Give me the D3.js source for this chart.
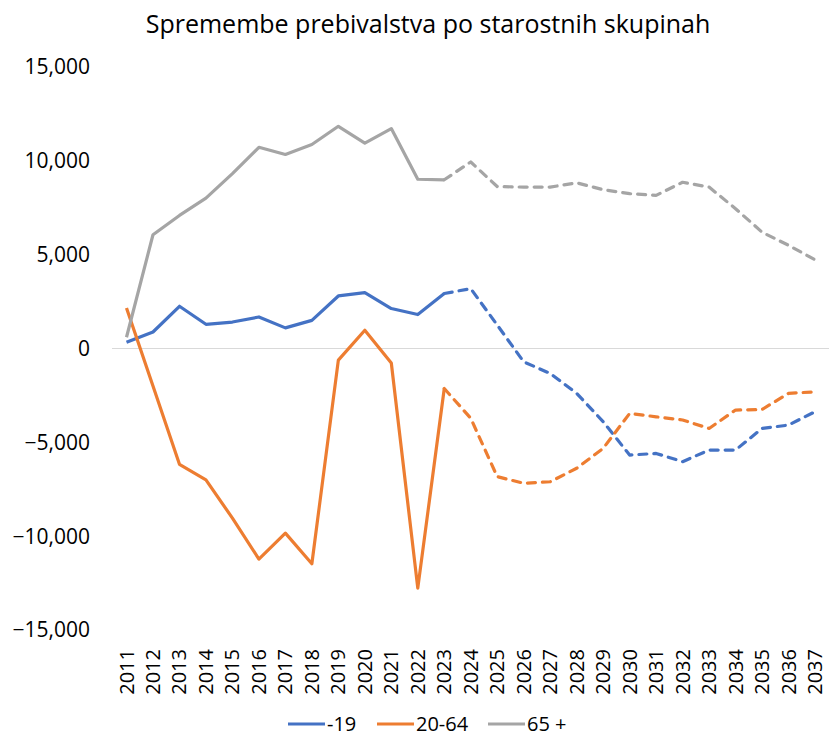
<!DOCTYPE html>
<html>
<head>
<meta charset="utf-8">
<script src="https://cdn.jsdelivr.net/npm/d3@7"></script>
<style>
  body { margin: 0; background: #fff; }
  text { font-family: "Open Sans", sans-serif; fill: #000; }
</style>
</head>
<body>
<svg width="829" height="737"></svg>
<script>
const years = d3.range(2011, 2038).map(String);

// -19
const young = [335, 880, 2250, 1290, 1410, 1680, 1100, 1500, 2800, 2980, 2130, 1810, 2930,
  3190, 1250, -710, -1330, -2390, -3900, -5680, -5590, -6030, -5410, -5410, -4260, -4080, -3370];
// 20-64
const working = [2160, -2000, -6170, -7000, -9040, -11220, -9840, -11470, -620, 970, -770, -12770, -2130,
  -3720, -6830, -7180, -7100, -6380, -5320, -3460, -3640, -3810, -4260, -3280, -3250, -2390, -2310];
// 65 +
const old = [600, 6060, 7090, 8010, 9320, 10720, 10340, 10870, 11840, 10940, 11720, 9020, 8990,
  9940, 8630, 8600, 8600, 8830, 8460, 8250, 8160, 8860, 8600, 7450, 6200, 5500, 4730];

const yTicks = [15000, 10000, 5000, 0, -5000, -10000, -15000];
const lastActual = "2023";

const series = [
  { name: "-19", values: young, color: "#4472C4" },
  { name: "20-64", values: working, color: "#ED7D31" },
  { name: "65 +", values: old, color: "#A5A5A5" }
];

const svg = d3.select("svg");

const x = d3.scalePoint().domain(years).range([126.5, 815]);
const y = d3.scaleLinear().domain([-15000, 15000]).range([630, 67]);

svg.append("text")
  .attr("x", 428)
  .attr("y", 33)
  .attr("text-anchor", "middle")
  .style("font-size", "25px")
  .text("Spremembe prebivalstva po starostnih skupinah");

// y axis labels
svg.append("g")
  .selectAll("text")
  .data(yTicks)
  .enter()
  .append("text")
  .attr("x", 90)
  .attr("y", d => y(d))
  .attr("dy", "0.35em")
  .attr("text-anchor", "end")
  .style("font-size", "21px")
  .text(d => d3.format(",")(d));

// zero line
svg.append("line")
  .attr("x1", 112)
  .attr("x2", 829)
  .attr("y1", y(0))
  .attr("y2", y(0))
  .attr("stroke", "#d9d9d9")
  .attr("stroke-width", 1);

// x axis labels
svg.append("g")
  .selectAll("text")
  .data(years)
  .enter()
  .append("text")
  .attr("transform", d => `translate(${x(d)},649) rotate(-90)`)
  .attr("dy", "0.35em")
  .attr("text-anchor", "end")
  .style("font-size", "20px")
  .text(d => d);

const line = d3.line()
  .x(d => x(d.year))
  .y(d => y(d.value));

const splitAt = years.indexOf(lastActual);

series.forEach(s => {
  const pts = years.map((yr, i) => ({ year: yr, value: s.values[i] }));

  svg.append("path")
    .datum(pts.slice(0, splitAt + 1))
    .attr("fill", "none")
    .attr("stroke", s.color)
    .attr("stroke-width", 3.2)
    .attr("stroke-linejoin", "round")
    .attr("d", line);

  svg.append("path")
    .datum(pts.slice(splitAt))
    .attr("fill", "none")
    .attr("stroke", s.color)
    .attr("stroke-width", 3.2)
    .attr("stroke-linejoin", "round")
    .attr("stroke-linecap", "round")
    .attr("stroke-dasharray", "8,7")
    .attr("d", line);
});

// legend
const legendX = [288, 377, 488];
const legend = svg.append("g")
  .selectAll("g")
  .data(series)
  .enter()
  .append("g")
  .attr("transform", (d, i) => `translate(${legendX[i]},724)`);

legend.append("line")
  .attr("x1", 0)
  .attr("x2", 37)
  .attr("stroke", d => d.color)
  .attr("stroke-width", 3.2);

legend.append("text")
  .attr("x", 39)
  .attr("dy", "0.35em")
  .style("font-size", "20px")
  .text(d => d.name);
</script>
</body>
</html>
